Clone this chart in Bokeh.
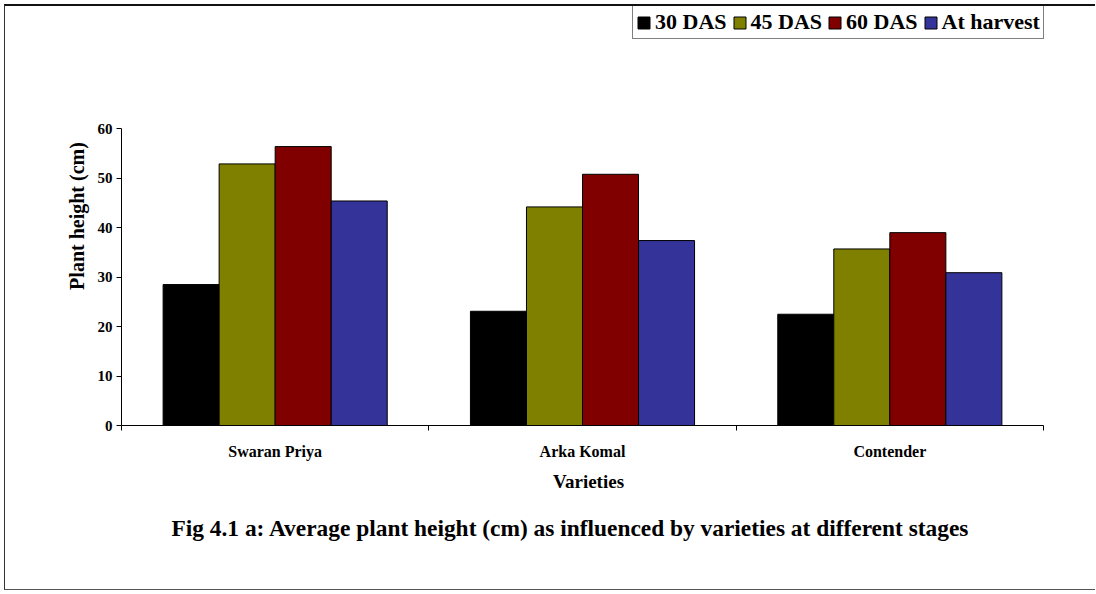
from bokeh.plotting import figure
from bokeh.models import Range1d, FixedTicker, Legend, LegendItem, Title, ColumnDataSource
from bokeh.transform import dodge
from bokeh.embed import file_html
from bokeh.resources import INLINE

varieties = ["Swaran Priya", "Arka Komal", "Contender"]
stages = ["30 DAS", "45 DAS", "60 DAS", "At harvest"]
das30 = [28.5, 23.1, 22.5]
das45 = [52.9, 44.2, 35.7]
das60 = [56.4, 50.8, 39.0]
harvest = [45.4, 37.4, 30.9]
colors = ["#000000", "#808000", "#800000", "#333399"]
yticks = [0, 10, 20, 30, 40, 50, 60]
caption = "Fig 4.1 a: Average plant height (cm) as influenced by varieties at different stages"

FONT = "Liberation Serif"
n = len(varieties)
pos = [i + 0.5 for i in range(n)]
bounds = [float(i) for i in range(n + 1)]

source = ColumnDataSource(dict(x=pos, s0=das30, s1=das45, s2=das60, s3=harvest))

# frame extends above 60 and right of the last category so the legend lives inside it
px_per_unit_y = 4.945
px_per_cat = 922 / 3
y_top = 60 + 122.3 / px_per_unit_y
x_end = n + 12 / px_per_cat
p = figure(width=1091, height=586, output_backend="svg", toolbar_location=None,
           x_range=Range1d(0, x_end), y_range=Range1d(0, y_top),
           min_border_left=116, min_border_right=41, min_border_top=0, min_border_bottom=167)
p.styles = {"margin-left": "4px", "margin-top": "4px",
            "border-left": "1px solid #333333", "border-top": "2px solid #111111",
            "border-bottom": "1px solid #555555"}
p.outline_line_color = None
p.xgrid.visible = False
p.ygrid.visible = False
p.background_fill_color = "white"
p.border_fill_color = "white"

w = 0.1823
renderers = []
for j in range(4):
    r = p.vbar(x=dodge("x", (j - 1.5) * w, range=p.x_range), top="s%d" % j, width=w,
               source=source, fill_color=colors[j], line_color="black", line_width=1)
    renderers.append(r)

# x axis
p.xaxis.bounds = (0, n)
p.xaxis.ticker = FixedTicker(ticks=pos, minor_ticks=bounds)
p.xaxis.major_label_overrides = {pos[i]: varieties[i] for i in range(n)}
p.xaxis.major_tick_out = 0
p.xaxis.major_tick_in = 0
p.xaxis.minor_tick_out = 5
p.xaxis.minor_tick_in = 0
p.xaxis.major_label_standoff = 12
p.xaxis.major_label_text_font = FONT
p.xaxis.major_label_text_font_style = "bold"
p.xaxis.major_label_text_font_size = "16px"
p.xaxis.major_label_text_color = "black"
p.xaxis.axis_label = "Varieties"
p.xaxis.axis_label_text_font = FONT
p.xaxis.axis_label_text_font_style = "bold"
p.xaxis.axis_label_text_font_size = "19px"
p.xaxis.axis_label_text_color = "black"
p.xaxis.axis_label_standoff = 8
p.xaxis.axis_line_color = "black"
p.xaxis.minor_tick_line_color = "black"

# y axis
p.yaxis.bounds = (0, 60)
p.yaxis.ticker = FixedTicker(ticks=yticks, minor_ticks=[])
p.yaxis.major_tick_out = 5
p.yaxis.major_tick_in = 0
p.yaxis.minor_tick_out = 0
p.yaxis.minor_tick_in = 0
p.yaxis.major_label_standoff = 4
p.yaxis.major_label_text_font = FONT
p.yaxis.major_label_text_font_style = "bold"
p.yaxis.major_label_text_font_size = "15px"
p.yaxis.major_label_text_color = "black"
p.yaxis.axis_label = "Plant height (cm)"
p.yaxis.axis_label_text_font = FONT
p.yaxis.axis_label_text_font_style = "bold"
p.yaxis.axis_label_text_font_size = "20px"
p.yaxis.axis_label_text_color = "black"
p.yaxis.axis_label_standoff = 7
p.yaxis.axis_line_color = "black"
p.yaxis.major_tick_line_color = "black"

legend = Legend(items=[LegendItem(label=stages[j], renderers=[renderers[j]]) for j in range(4)],
                orientation="horizontal", location=(511, 386))
legend.label_text_font = FONT
legend.label_text_font_style = "bold"
legend.label_text_font_size = "22px"
legend.label_text_color = "black"
legend.glyph_width = 15
legend.glyph_height = 15
legend.label_standoff = 4
legend.spacing = 5
legend.padding = 3
legend.margin = 0
legend.border_line_color = "black"
legend.border_line_width = 1
legend.background_fill_alpha = 1.0
p.add_layout(legend)

title = Title(text=caption, align="left", offset=50, standoff=36,
              text_font=FONT, text_font_style="bold", text_font_size="23.4px",
              text_color="black")
p.add_layout(title, "below")

open("out.html", "w").write(file_html(p, INLINE))
